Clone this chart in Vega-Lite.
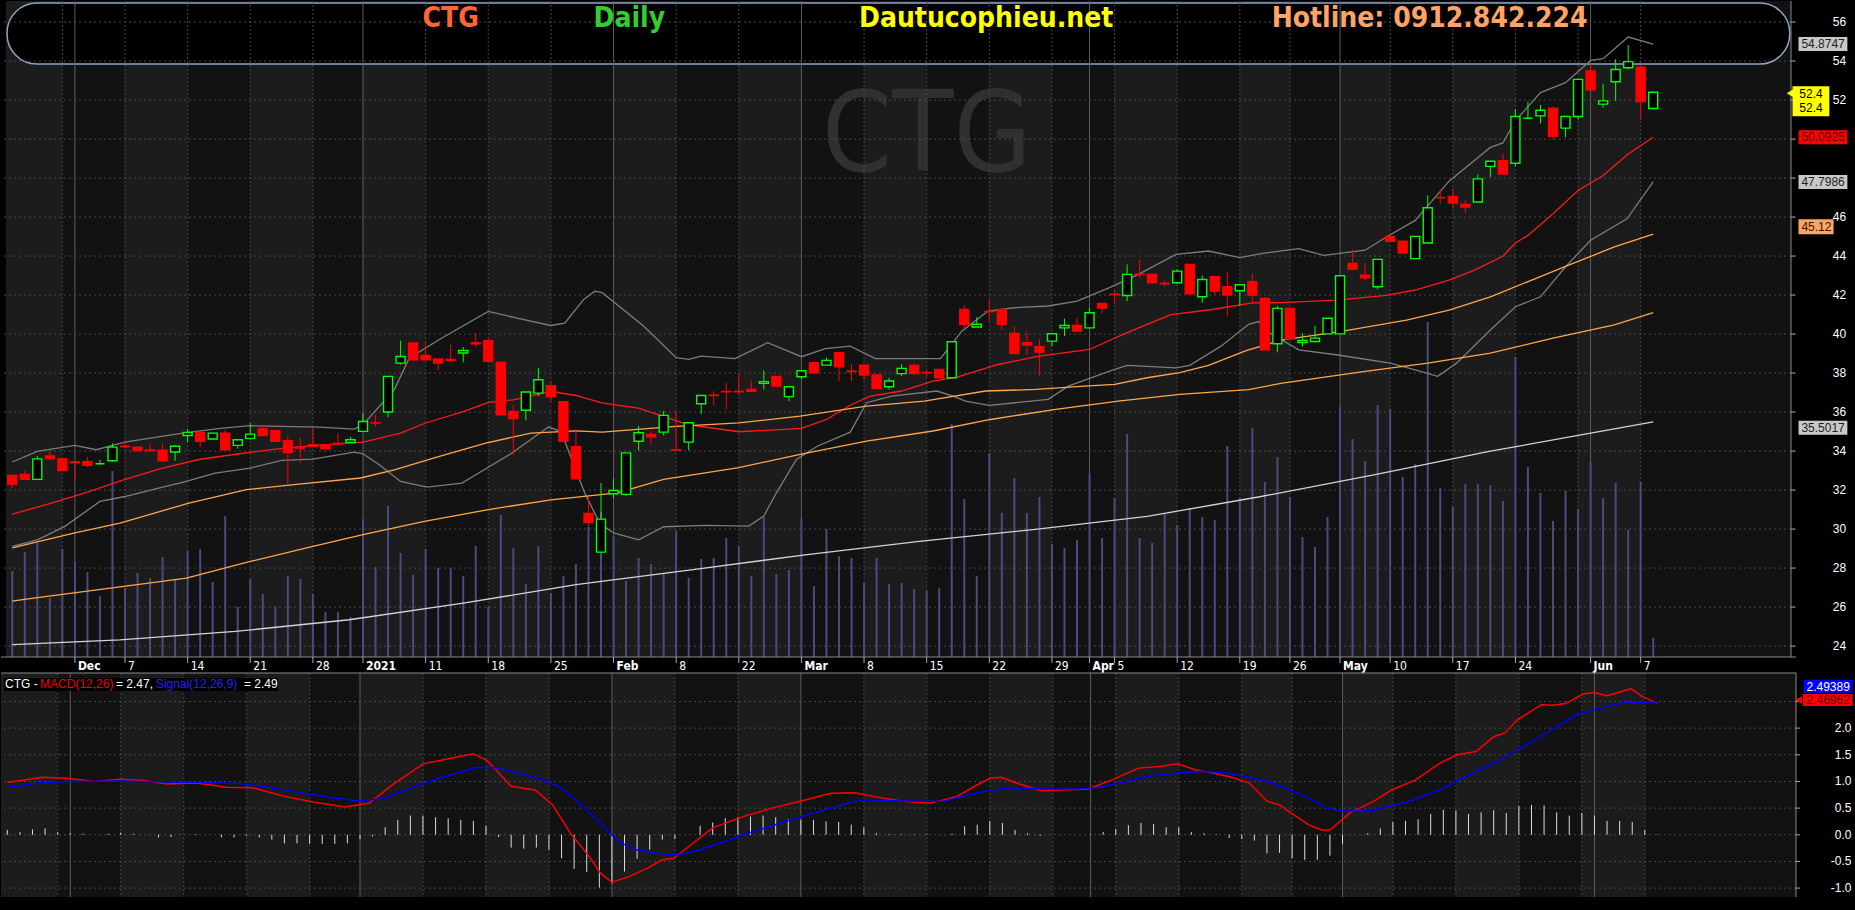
{
"$schema": "https://vega.github.io/schema/vega-lite/v6.json",
"background": "#000000",
"padding": {"left": 0, "top": 0, "right": 3, "bottom": 14},
"bounds": "flush",
"spacing": 16,
"resolve": {"scale": {"color": "independent"}},
"config": {"view": {"stroke": null}},
"datasets": {
"candles": [
{"t":0,"o":32.75,"h":32.75,"l":32.1,"c":32.3,"v":8.6},
{"t":1,"o":32.8,"h":33.0,"l":32.5,"c":32.55,"v":10.5},
{"t":2,"o":32.55,"h":33.75,"l":32.5,"c":33.6,"v":11.4},
{"t":3,"o":33.75,"h":34.0,"l":33.6,"c":33.6,"v":5.9},
{"t":4,"o":33.6,"h":33.6,"l":33.0,"c":33.0,"v":10.8},
{"t":5,"o":33.45,"h":33.45,"l":32.55,"c":33.4,"v":9.5},
{"t":6,"o":33.45,"h":33.7,"l":33.18,"c":33.27,"v":8.5},
{"t":7,"o":33.35,"h":33.55,"l":33.3,"c":33.35,"v":6.1},
{"t":8,"o":33.5,"h":34.4,"l":33.45,"c":34.2,"v":18.6},
{"t":9,"o":34.25,"h":34.55,"l":34.15,"c":34.22,"v":6.9},
{"t":10,"o":34.2,"h":34.2,"l":33.95,"c":34.03,"v":8.4},
{"t":11,"o":34.05,"h":34.4,"l":34.0,"c":34.02,"v":7.9},
{"t":12,"o":34.05,"h":34.4,"l":33.5,"c":33.5,"v":10.0},
{"t":13,"o":33.95,"h":34.3,"l":33.5,"c":34.25,"v":7.8},
{"t":14,"o":34.8,"h":35.13,"l":34.45,"c":34.96,"v":10.6},
{"t":15,"o":34.96,"h":34.96,"l":34.19,"c":34.5,"v":10.8},
{"t":16,"o":34.62,"h":34.95,"l":34.6,"c":34.92,"v":7.5},
{"t":17,"o":34.92,"h":35.09,"l":34.07,"c":34.07,"v":14.1},
{"t":18,"o":34.29,"h":34.58,"l":34.12,"c":34.58,"v":5.0},
{"t":19,"o":34.65,"h":35.44,"l":34.58,"c":34.87,"v":7.8},
{"t":20,"o":35.13,"h":35.35,"l":34.8,"c":34.8,"v":6.3},
{"t":21,"o":35.04,"h":35.04,"l":34.5,"c":34.5,"v":5.0},
{"t":22,"o":34.53,"h":34.79,"l":32.27,"c":33.93,"v":8.1},
{"t":23,"o":34.2,"h":34.7,"l":33.4,"c":34.15,"v":7.8},
{"t":24,"o":34.33,"h":35.18,"l":34.24,"c":34.24,"v":6.3},
{"t":25,"o":34.33,"h":34.33,"l":34.12,"c":34.12,"v":4.5},
{"t":26,"o":34.4,"h":34.92,"l":34.3,"c":34.38,"v":4.5},
{"t":27,"o":34.44,"h":34.72,"l":34.44,"c":34.58,"v":4.0},
{"t":28,"o":35.01,"h":35.95,"l":35.01,"c":35.52,"v":13.8},
{"t":29,"o":35.45,"h":35.86,"l":35.26,"c":35.44,"v":9.0},
{"t":30,"o":36.0,"h":37.83,"l":35.74,"c":37.83,"v":15.1},
{"t":31,"o":38.51,"h":39.66,"l":38.43,"c":38.85,"v":10.4},
{"t":32,"o":39.54,"h":39.54,"l":38.68,"c":38.68,"v":8.2},
{"t":33,"o":38.9,"h":39.59,"l":38.68,"c":38.68,"v":10.8},
{"t":34,"o":38.72,"h":38.72,"l":38.14,"c":38.51,"v":8.9},
{"t":35,"o":38.7,"h":39.45,"l":38.55,"c":38.65,"v":8.9},
{"t":36,"o":39.03,"h":39.33,"l":38.55,"c":39.16,"v":8.1},
{"t":37,"o":39.55,"h":40.05,"l":39.35,"c":39.5,"v":11.1},
{"t":38,"o":39.66,"h":39.8,"l":38.6,"c":38.6,"v":5.0},
{"t":39,"o":38.55,"h":38.6,"l":35.86,"c":35.86,"v":14.2},
{"t":40,"o":36.03,"h":36.38,"l":33.81,"c":35.67,"v":10.9},
{"t":41,"o":36.09,"h":37.03,"l":35.57,"c":37.03,"v":7.3},
{"t":42,"o":36.97,"h":38.26,"l":36.8,"c":37.66,"v":11.1},
{"t":43,"o":37.35,"h":37.57,"l":36.55,"c":36.8,"v":6.4},
{"t":44,"o":36.53,"h":36.53,"l":34.5,"c":34.5,"v":8.1},
{"t":45,"o":34.22,"h":35.13,"l":32.53,"c":32.58,"v":9.3},
{"t":46,"o":30.8,"h":31.67,"l":30.14,"c":30.34,"v":13.0},
{"t":47,"o":28.82,"h":32.36,"l":28.8,"c":30.51,"v":14.5},
{"t":48,"o":31.81,"h":32.58,"l":31.59,"c":31.98,"v":12.1},
{"t":49,"o":31.78,"h":33.91,"l":31.7,"c":33.91,"v":7.6},
{"t":50,"o":34.5,"h":35.28,"l":34.03,"c":34.94,"v":9.9},
{"t":51,"o":34.85,"h":35.03,"l":34.34,"c":34.73,"v":9.3},
{"t":52,"o":34.97,"h":36.05,"l":34.8,"c":35.83,"v":8.3},
{"t":53,"o":34.07,"h":36.05,"l":34.03,"c":34.05,"v":12.6},
{"t":54,"o":34.46,"h":35.45,"l":34.03,"c":35.45,"v":7.9},
{"t":55,"o":36.43,"h":36.85,"l":35.9,"c":36.85,"v":9.8},
{"t":56,"o":36.87,"h":37.07,"l":36.34,"c":36.85,"v":9.9},
{"t":57,"o":37.06,"h":37.5,"l":36.14,"c":37.04,"v":11.9},
{"t":58,"o":37.06,"h":38.0,"l":36.87,"c":37.04,"v":11.1},
{"t":59,"o":37.16,"h":37.62,"l":37.07,"c":37.07,"v":8.1},
{"t":60,"o":37.47,"h":38.14,"l":37.16,"c":37.56,"v":14.0},
{"t":61,"o":37.83,"h":37.83,"l":37.33,"c":37.33,"v":8.3},
{"t":62,"o":36.79,"h":37.3,"l":36.56,"c":37.3,"v":8.7},
{"t":63,"o":37.81,"h":38.12,"l":37.7,"c":38.12,"v":13.8},
{"t":64,"o":38.53,"h":38.53,"l":38.02,"c":38.02,"v":7.1},
{"t":65,"o":38.41,"h":38.79,"l":38.41,"c":38.65,"v":12.8},
{"t":66,"o":39.04,"h":39.04,"l":37.59,"c":38.32,"v":10.1},
{"t":67,"o":38.1,"h":38.44,"l":37.59,"c":38.08,"v":9.9},
{"t":68,"o":38.41,"h":38.48,"l":37.66,"c":37.9,"v":7.4},
{"t":69,"o":37.91,"h":37.91,"l":37.21,"c":37.21,"v":9.9},
{"t":70,"o":37.3,"h":37.76,"l":37.16,"c":37.59,"v":7.3},
{"t":71,"o":37.97,"h":38.44,"l":37.85,"c":38.24,"v":7.4},
{"t":72,"o":38.39,"h":38.48,"l":37.97,"c":37.97,"v":6.8},
{"t":73,"o":38.03,"h":38.19,"l":37.8,"c":38.02,"v":6.6},
{"t":74,"o":38.19,"h":38.19,"l":37.76,"c":37.76,"v":6.9},
{"t":75,"o":37.76,"h":39.61,"l":37.7,"c":39.61,"v":23.3},
{"t":76,"o":41.26,"h":41.47,"l":40.24,"c":40.5,"v":15.8},
{"t":77,"o":40.36,"h":40.87,"l":40.36,"c":40.5,"v":8.1},
{"t":78,"o":41.16,"h":41.78,"l":40.67,"c":41.15,"v":20.4},
{"t":79,"o":41.26,"h":41.26,"l":40.24,"c":40.5,"v":14.4},
{"t":80,"o":40.03,"h":40.41,"l":39.0,"c":39.0,"v":17.9},
{"t":81,"o":39.56,"h":40.15,"l":38.96,"c":39.44,"v":14.4},
{"t":82,"o":39.35,"h":39.76,"l":37.85,"c":39.08,"v":16.0},
{"t":83,"o":39.64,"h":40.02,"l":39.38,"c":40.02,"v":11.3},
{"t":84,"o":40.32,"h":40.79,"l":39.9,"c":40.44,"v":10.9},
{"t":85,"o":40.44,"h":40.84,"l":40.15,"c":40.15,"v":11.7},
{"t":86,"o":40.32,"h":41.35,"l":40.32,"c":41.09,"v":18.4},
{"t":87,"o":41.57,"h":41.57,"l":41.09,"c":41.33,"v":11.9},
{"t":88,"o":42.04,"h":42.29,"l":41.57,"c":42.03,"v":15.9},
{"t":89,"o":41.98,"h":43.57,"l":41.69,"c":43.06,"v":22.3},
{"t":90,"o":43.07,"h":43.83,"l":42.89,"c":43.06,"v":11.9},
{"t":91,"o":43.06,"h":43.06,"l":42.63,"c":42.63,"v":11.4},
{"t":92,"o":42.6,"h":42.75,"l":42.45,"c":42.58,"v":14.4},
{"t":93,"o":42.63,"h":43.32,"l":42.55,"c":43.23,"v":13.2},
{"t":94,"o":43.57,"h":43.57,"l":42.07,"c":42.07,"v":14.9},
{"t":95,"o":41.91,"h":43.0,"l":41.61,"c":42.8,"v":14.0},
{"t":96,"o":42.94,"h":42.97,"l":42.03,"c":42.2,"v":13.7},
{"t":97,"o":42.43,"h":43.18,"l":40.92,"c":42.0,"v":21.1},
{"t":98,"o":42.22,"h":42.53,"l":41.44,"c":42.53,"v":15.9},
{"t":99,"o":42.68,"h":43.1,"l":41.57,"c":42.0,"v":22.9},
{"t":100,"o":41.83,"h":41.91,"l":39.19,"c":39.19,"v":17.5},
{"t":101,"o":39.5,"h":41.44,"l":39.06,"c":41.32,"v":20.0},
{"t":102,"o":41.32,"h":41.32,"l":39.74,"c":39.74,"v":16.0},
{"t":103,"o":39.57,"h":40.04,"l":39.36,"c":39.67,"v":12.0},
{"t":104,"o":39.62,"h":40.42,"l":39.62,"c":39.79,"v":11.0},
{"t":105,"o":40.01,"h":40.81,"l":40.01,"c":40.81,"v":14.0},
{"t":106,"o":40.01,"h":42.99,"l":40.01,"c":42.99,"v":25.0},
{"t":107,"o":43.62,"h":44.33,"l":43.33,"c":43.33,"v":21.8},
{"t":108,"o":43.02,"h":43.65,"l":42.73,"c":42.89,"v":19.6},
{"t":109,"o":42.43,"h":43.83,"l":42.29,"c":43.83,"v":25.2},
{"t":110,"o":45.01,"h":45.01,"l":44.76,"c":44.76,"v":24.8},
{"t":111,"o":44.76,"h":44.76,"l":44.16,"c":44.16,"v":18.0},
{"t":112,"o":43.87,"h":45.01,"l":43.87,"c":45.01,"v":19.3},
{"t":113,"o":44.67,"h":47.11,"l":44.67,"c":46.48,"v":33.5},
{"t":114,"o":47.0,"h":47.4,"l":46.68,"c":46.99,"v":16.9},
{"t":115,"o":47.06,"h":47.45,"l":46.43,"c":46.72,"v":15.0},
{"t":116,"o":46.65,"h":46.85,"l":46.2,"c":46.51,"v":17.3},
{"t":117,"o":46.77,"h":48.18,"l":46.77,"c":47.96,"v":17.3},
{"t":118,"o":48.6,"h":48.86,"l":48.04,"c":48.86,"v":17.2},
{"t":119,"o":48.89,"h":49.23,"l":48.21,"c":48.21,"v":15.6},
{"t":120,"o":48.76,"h":51.53,"l":48.6,"c":51.16,"v":30.0},
{"t":121,"o":51.07,"h":51.92,"l":51.07,"c":51.07,"v":19.0},
{"t":122,"o":51.19,"h":51.75,"l":50.8,"c":51.48,"v":16.4},
{"t":123,"o":51.58,"h":51.65,"l":49.97,"c":50.14,"v":13.6},
{"t":124,"o":50.56,"h":51.16,"l":50.09,"c":51.16,"v":16.6},
{"t":125,"o":51.16,"h":53.06,"l":51.0,"c":53.06,"v":14.8},
{"t":126,"o":53.49,"h":53.83,"l":52.52,"c":52.52,"v":19.5},
{"t":127,"o":51.79,"h":52.84,"l":51.62,"c":51.96,"v":15.9},
{"t":128,"o":52.94,"h":54.09,"l":51.96,"c":53.57,"v":17.4},
{"t":129,"o":53.66,"h":54.82,"l":53.57,"c":53.97,"v":12.7},
{"t":130,"o":53.69,"h":53.69,"l":50.99,"c":51.92,"v":17.5},
{"t":131,"o":51.57,"h":52.4,"l":51.5,"c":52.4,"v":1.9}
],
"lines": [
{"s":"MA20","t":0,"v":30.77},{"s":"MA20","t":3,"v":31.3},{"s":"MA20","t":6,"v":31.9},{"s":"MA20","t":9,"v":32.55},{"s":"MA20","t":12,"v":33.13},{"s":"MA20","t":15,"v":33.58},{"s":"MA20","t":18,"v":33.85},{"s":"MA20","t":21,"v":34.1},{"s":"MA20","t":24,"v":34.28},{"s":"MA20","t":28,"v":34.46},{"s":"MA20","t":31,"v":34.92},{"s":"MA20","t":33,"v":35.44},{"s":"MA20","t":36,"v":36.02},{"s":"MA20","t":38,"v":36.5},{"s":"MA20","t":40,"v":36.63},{"s":"MA20","t":43,"v":37.06},{"s":"MA20","t":45,"v":36.85},{"s":"MA20","t":47,"v":36.48},{"s":"MA20","t":48,"v":36.38},{"s":"MA20","t":50,"v":36.2},{"s":"MA20","t":54,"v":35.35},{"s":"MA20","t":58,"v":34.99},{"s":"MA20","t":63,"v":35.16},{"s":"MA20","t":65,"v":35.62},{"s":"MA20","t":67,"v":36.39},{"s":"MA20","t":68.5,"v":36.82},{"s":"MA20","t":71,"v":37.08},{"s":"MA20","t":73.5,"v":37.59},{"s":"MA20","t":75.5,"v":37.81},{"s":"MA20","t":78.7,"v":38.44},{"s":"MA20","t":82,"v":38.87},{"s":"MA20","t":86,"v":39.21},{"s":"MA20","t":89,"v":40.07},{"s":"MA20","t":92.5,"v":41.0},{"s":"MA20","t":95.8,"v":41.26},{"s":"MA20","t":99,"v":41.6},{"s":"MA20","t":101.4,"v":41.61},{"s":"MA20","t":105.7,"v":41.74},{"s":"MA20","t":109.7,"v":41.98},{"s":"MA20","t":112,"v":42.26},{"s":"MA20","t":114.7,"v":42.77},{"s":"MA20","t":116.6,"v":43.24},{"s":"MA20","t":119,"v":43.99},{"s":"MA20","t":120,"v":44.67},{"s":"MA20","t":121,"v":45.06},{"s":"MA20","t":123,"v":46.17},{"s":"MA20","t":125,"v":47.36},{"s":"MA20","t":127,"v":48.13},{"s":"MA20","t":129,"v":49.23},{"s":"MA20","t":131,"v":50.09},
{"s":"BBU","t":0,"v":33.44},{"s":"BBU","t":2,"v":33.98},{"s":"BBU","t":5,"v":34.29},{"s":"BBU","t":6.7,"v":34.07},{"s":"BBU","t":9,"v":34.46},{"s":"BBU","t":13.6,"v":34.92},{"s":"BBU","t":16.8,"v":35.18},{"s":"BBU","t":19,"v":35.3},{"s":"BBU","t":24.5,"v":35.23},{"s":"BBU","t":27.3,"v":35.13},{"s":"BBU","t":28,"v":35.35},{"s":"BBU","t":30.5,"v":37.15},{"s":"BBU","t":31.7,"v":38.77},{"s":"BBU","t":34.3,"v":39.8},{"s":"BBU","t":38,"v":41.16},{"s":"BBU","t":40.3,"v":40.82},{"s":"BBU","t":43,"v":40.44},{"s":"BBU","t":44.1,"v":40.56},{"s":"BBU","t":45.6,"v":41.76},{"s":"BBU","t":46.5,"v":42.2},{"s":"BBU","t":47.1,"v":42.12},{"s":"BBU","t":50.4,"v":40.41},{"s":"BBU","t":53,"v":38.79},{"s":"BBU","t":54,"v":38.7},{"s":"BBU","t":55,"v":38.87},{"s":"BBU","t":57.7,"v":38.74},{"s":"BBU","t":60.3,"v":39.56},{"s":"BBU","t":63,"v":38.84},{"s":"BBU","t":64.9,"v":39.25},{"s":"BBU","t":66.9,"v":39.38},{"s":"BBU","t":68.9,"v":38.74},{"s":"BBU","t":74.1,"v":38.74},{"s":"BBU","t":75.8,"v":40.15},{"s":"BBU","t":77.9,"v":41.18},{"s":"BBU","t":80,"v":41.35},{"s":"BBU","t":82.7,"v":41.44},{"s":"BBU","t":85,"v":41.69},{"s":"BBU","t":87.6,"v":42.38},{"s":"BBU","t":89.9,"v":43.06},{"s":"BBU","t":92.9,"v":44.09},{"s":"BBU","t":95.5,"v":44.26},{"s":"BBU","t":98,"v":43.92},{"s":"BBU","t":99.7,"v":44.13},{"s":"BBU","t":102.7,"v":44.38},{"s":"BBU","t":104.7,"v":44.04},{"s":"BBU","t":108,"v":44.3},{"s":"BBU","t":109.7,"v":44.98},{"s":"BBU","t":112,"v":45.83},{"s":"BBU","t":114.7,"v":47.84},{"s":"BBU","t":118,"v":49.57},{"s":"BBU","t":119,"v":49.8},{"s":"BBU","t":120,"v":50.94},{"s":"BBU","t":122,"v":52.38},{"s":"BBU","t":124,"v":52.89},{"s":"BBU","t":126,"v":54.03},{"s":"BBU","t":127,"v":54.12},{"s":"BBU","t":129,"v":55.23},{"s":"BBU","t":131,"v":54.87},
{"s":"BBL","t":0,"v":29.11},{"s":"BBL","t":2,"v":29.45},{"s":"BBL","t":4.2,"v":30.14},{"s":"BBL","t":7,"v":31.42},{"s":"BBL","t":9,"v":31.67},{"s":"BBL","t":12,"v":32.15},{"s":"BBL","t":13.6,"v":32.39},{"s":"BBL","t":16.2,"v":32.87},{"s":"BBL","t":19,"v":33.13},{"s":"BBL","t":21.5,"v":33.52},{"s":"BBL","t":24,"v":33.59},{"s":"BBL","t":27.3,"v":33.95},{"s":"BBL","t":28,"v":33.86},{"s":"BBL","t":29.3,"v":33.3},{"s":"BBL","t":31,"v":32.44},{"s":"BBL","t":33.1,"v":32.15},{"s":"BBL","t":35.9,"v":32.36},{"s":"BBL","t":37.9,"v":33.13},{"s":"BBL","t":39.8,"v":33.86},{"s":"BBL","t":42.8,"v":35.23},{"s":"BBL","t":43.8,"v":35.01},{"s":"BBL","t":45.7,"v":31.85},{"s":"BBL","t":46.9,"v":30.3},{"s":"BBL","t":48,"v":29.8},{"s":"BBL","t":50,"v":29.45},{"s":"BBL","t":52,"v":30.12},{"s":"BBL","t":55.4,"v":30.19},{"s":"BBL","t":58.8,"v":30.15},{"s":"BBL","t":60,"v":30.67},{"s":"BBL","t":61,"v":31.86},{"s":"BBL","t":62.6,"v":33.57},{"s":"BBL","t":64.3,"v":34.26},{"s":"BBL","t":66.9,"v":34.97},{"s":"BBL","t":68.2,"v":36.48},{"s":"BBL","t":70.2,"v":36.82},{"s":"BBL","t":73.8,"v":37.08},{"s":"BBL","t":75.1,"v":36.82},{"s":"BBL","t":76.1,"v":36.56},{"s":"BBL","t":78,"v":36.34},{"s":"BBL","t":82.7,"v":36.65},{"s":"BBL","t":84.3,"v":37.33},{"s":"BBL","t":87.6,"v":38.1},{"s":"BBL","t":89,"v":38.39},{"s":"BBL","t":92.9,"v":38.27},{"s":"BBL","t":94,"v":38.4},{"s":"BBL","t":96.5,"v":39.38},{"s":"BBL","t":98.7,"v":40.5},{"s":"BBL","t":99.5,"v":40.64},{"s":"BBL","t":100.2,"v":40.13},{"s":"BBL","t":102.7,"v":39.19},{"s":"BBL","t":105.7,"v":38.94},{"s":"BBL","t":110,"v":38.51},{"s":"BBL","t":112,"v":38.17},{"s":"BBL","t":113.8,"v":37.83},{"s":"BBL","t":115.3,"v":38.51},{"s":"BBL","t":118,"v":40.21},{"s":"BBL","t":120,"v":41.4},{"s":"BBL","t":122,"v":41.91},{"s":"BBL","t":124,"v":43.45},{"s":"BBL","t":126,"v":44.81},{"s":"BBL","t":128.9,"v":45.91},{"s":"BBL","t":131,"v":47.8},
{"s":"MA50","t":0,"v":29.03},{"s":"MA50","t":5,"v":29.8},{"s":"MA50","t":8.6,"v":30.31},{"s":"MA50","t":14.1,"v":31.33},{"s":"MA50","t":18.7,"v":32.02},{"s":"MA50","t":22.3,"v":32.27},{"s":"MA50","t":27.8,"v":32.62},{"s":"MA50","t":30.5,"v":33.04},{"s":"MA50","t":34.1,"v":33.73},{"s":"MA50","t":37.8,"v":34.41},{"s":"MA50","t":41.4,"v":34.92},{"s":"MA50","t":45,"v":35.04},{"s":"MA50","t":47.1,"v":34.97},{"s":"MA50","t":52.7,"v":35.25},{"s":"MA50","t":58,"v":35.45},{"s":"MA50","t":62.9,"v":35.79},{"s":"MA50","t":68.2,"v":36.31},{"s":"MA50","t":72.8,"v":36.56},{"s":"MA50","t":77.7,"v":37.08},{"s":"MA50","t":81.7,"v":37.16},{"s":"MA50","t":85.6,"v":37.33},{"s":"MA50","t":88,"v":37.42},{"s":"MA50","t":90.6,"v":37.76},{"s":"MA50","t":93.2,"v":38.02},{"s":"MA50","t":95.5,"v":38.4},{"s":"MA50","t":98.5,"v":39.15},{"s":"MA50","t":101.4,"v":39.7},{"s":"MA50","t":106,"v":40.13},{"s":"MA50","t":111.3,"v":40.72},{"s":"MA50","t":114.7,"v":41.23},{"s":"MA50","t":118,"v":41.91},{"s":"MA50","t":121.3,"v":42.77},{"s":"MA50","t":124.6,"v":43.62},{"s":"MA50","t":127.9,"v":44.47},{"s":"MA50","t":131,"v":45.12},
{"s":"MA100","t":0,"v":26.3},{"s":"MA100","t":1.1,"v":26.41},{"s":"MA100","t":8.9,"v":27.06},{"s":"MA100","t":13.9,"v":27.49},{"s":"MA100","t":19,"v":28.34},{"s":"MA100","t":24,"v":29.11},{"s":"MA100","t":28,"v":29.71},{"s":"MA100","t":32.9,"v":30.39},{"s":"MA100","t":37.9,"v":30.99},{"s":"MA100","t":43,"v":31.5},{"s":"MA100","t":48.3,"v":31.86},{"s":"MA100","t":52,"v":32.55},{"s":"MA100","t":58,"v":33.15},{"s":"MA100","t":62.9,"v":33.83},{"s":"MA100","t":68.2,"v":34.51},{"s":"MA100","t":73.5,"v":35.03},{"s":"MA100","t":78.1,"v":35.62},{"s":"MA100","t":83.3,"v":36.14},{"s":"MA100","t":88.3,"v":36.56},{"s":"MA100","t":93.2,"v":36.91},{"s":"MA100","t":98.7,"v":37.15},{"s":"MA100","t":101.4,"v":37.49},{"s":"MA100","t":108,"v":38.09},{"s":"MA100","t":113,"v":38.51},{"s":"MA100","t":118,"v":39.02},{"s":"MA100","t":123,"v":39.79},{"s":"MA100","t":127.9,"v":40.47},{"s":"MA100","t":131,"v":41.1},
{"s":"MA200","t":0,"v":24.07},{"s":"MA200","t":8.6,"v":24.32},{"s":"MA200","t":17.8,"v":24.75},{"s":"MA200","t":26.9,"v":25.35},{"s":"MA200","t":36,"v":26.2},{"s":"MA200","t":45,"v":27.15},{"s":"MA200","t":54.2,"v":27.91},{"s":"MA200","t":63.3,"v":28.68},{"s":"MA200","t":72.4,"v":29.37},{"s":"MA200","t":81.5,"v":29.97},{"s":"MA200","t":90.6,"v":30.65},{"s":"MA200","t":99.7,"v":31.67},{"s":"MA200","t":108.8,"v":32.79},{"s":"MA200","t":117.9,"v":33.98},{"s":"MA200","t":131,"v":35.5}
],
"macd": [
{"s":"MACD","t":0,"v":0.98},{"s":"MACD","t":2.8,"v":1.08},{"s":"MACD","t":4.7,"v":1.06},{"s":"MACD","t":7,"v":1.0},{"s":"MACD","t":9,"v":1.04},{"s":"MACD","t":10.8,"v":1.02},{"s":"MACD","t":12.7,"v":0.95},{"s":"MACD","t":15,"v":0.97},{"s":"MACD","t":17.4,"v":0.89},{"s":"MACD","t":19.5,"v":0.88},{"s":"MACD","t":22,"v":0.72},{"s":"MACD","t":24.4,"v":0.61},{"s":"MACD","t":26.8,"v":0.52},{"s":"MACD","t":28.7,"v":0.59},{"s":"MACD","t":30.6,"v":0.94},{"s":"MACD","t":33,"v":1.33},{"s":"MACD","t":35.3,"v":1.44},{"s":"MACD","t":37,"v":1.52},{"s":"MACD","t":38.1,"v":1.39},{"s":"MACD","t":40,"v":0.91},{"s":"MACD","t":41.9,"v":0.84},{"s":"MACD","t":43.3,"v":0.56},{"s":"MACD","t":44.7,"v":0.03},{"s":"MACD","t":46.2,"v":-0.41},{"s":"MACD","t":47.1,"v":-0.72},{"s":"MACD","t":48,"v":-0.89},{"s":"MACD","t":49.4,"v":-0.78},{"s":"MACD","t":50.8,"v":-0.63},{"s":"MACD","t":52,"v":-0.47},{"s":"MACD","t":52.9,"v":-0.44},{"s":"MACD","t":54.1,"v":-0.22},{"s":"MACD","t":56,"v":0.13},{"s":"MACD","t":58.4,"v":0.34},{"s":"MACD","t":60.7,"v":0.5},{"s":"MACD","t":63.1,"v":0.64},{"s":"MACD","t":65.4,"v":0.78},{"s":"MACD","t":67.3,"v":0.79},{"s":"MACD","t":68.7,"v":0.72},{"s":"MACD","t":71.1,"v":0.63},{"s":"MACD","t":73.3,"v":0.59},{"s":"MACD","t":75.4,"v":0.72},{"s":"MACD","t":76.8,"v":0.91},{"s":"MACD","t":78,"v":1.06},{"s":"MACD","t":78.9,"v":1.08},{"s":"MACD","t":80.1,"v":0.97},{"s":"MACD","t":82,"v":0.83},{"s":"MACD","t":83.9,"v":0.84},{"s":"MACD","t":85.8,"v":0.86},{"s":"MACD","t":87.7,"v":1.03},{"s":"MACD","t":89.8,"v":1.25},{"s":"MACD","t":91.5,"v":1.28},{"s":"MACD","t":92.9,"v":1.33},{"s":"MACD","t":94.3,"v":1.22},{"s":"MACD","t":95.7,"v":1.16},{"s":"MACD","t":97.2,"v":1.08},{"s":"MACD","t":98.6,"v":0.97},{"s":"MACD","t":100,"v":0.63},{"s":"MACD","t":101,"v":0.56},{"s":"MACD","t":101.9,"v":0.41},{"s":"MACD","t":103.3,"v":0.19},{"s":"MACD","t":104.3,"v":0.09},{"s":"MACD","t":105,"v":0.09},{"s":"MACD","t":106.6,"v":0.41},{"s":"MACD","t":108.5,"v":0.63},{"s":"MACD","t":109.9,"v":0.84},{"s":"MACD","t":111.8,"v":1.03},{"s":"MACD","t":113.7,"v":1.34},{"s":"MACD","t":115.1,"v":1.5},{"s":"MACD","t":116.6,"v":1.56},{"s":"MACD","t":118,"v":1.84},{"s":"MACD","t":118.9,"v":1.91},{"s":"MACD","t":119.9,"v":2.16},{"s":"MACD","t":121.8,"v":2.44},{"s":"MACD","t":122.7,"v":2.43},{"s":"MACD","t":123.7,"v":2.46},{"s":"MACD","t":125.1,"v":2.64},{"s":"MACD","t":126,"v":2.67},{"s":"MACD","t":127,"v":2.61},{"s":"MACD","t":128.9,"v":2.74},{"s":"MACD","t":129.8,"v":2.59},{"s":"MACD","t":131,"v":2.47},
{"s":"Signal","t":0,"v":0.89},{"s":"Signal","t":2.4,"v":0.97},{"s":"Signal","t":4.7,"v":1.0},{"s":"Signal","t":9,"v":1.01},{"s":"Signal","t":12.7,"v":0.99},{"s":"Signal","t":15.5,"v":0.98},{"s":"Signal","t":18.4,"v":0.96},{"s":"Signal","t":20.7,"v":0.89},{"s":"Signal","t":23.1,"v":0.8},{"s":"Signal","t":25.9,"v":0.69},{"s":"Signal","t":27.8,"v":0.64},{"s":"Signal","t":29.7,"v":0.67},{"s":"Signal","t":32.5,"v":0.92},{"s":"Signal","t":35.3,"v":1.13},{"s":"Signal","t":37.2,"v":1.26},{"s":"Signal","t":38.6,"v":1.26},{"s":"Signal","t":40.5,"v":1.16},{"s":"Signal","t":42.4,"v":1.04},{"s":"Signal","t":44,"v":0.88},{"s":"Signal","t":45.7,"v":0.53},{"s":"Signal","t":47.1,"v":0.22},{"s":"Signal","t":48.5,"v":-0.13},{"s":"Signal","t":49.9,"v":-0.28},{"s":"Signal","t":51.3,"v":-0.34},{"s":"Signal","t":53.2,"v":-0.38},{"s":"Signal","t":55,"v":-0.28},{"s":"Signal","t":56.9,"v":-0.13},{"s":"Signal","t":58.8,"v":0.03},{"s":"Signal","t":60.6,"v":0.16},{"s":"Signal","t":62.6,"v":0.31},{"s":"Signal","t":65.4,"v":0.5},{"s":"Signal","t":67.3,"v":0.63},{"s":"Signal","t":70.1,"v":0.64},{"s":"Signal","t":72.5,"v":0.63},{"s":"Signal","t":74.4,"v":0.63},{"s":"Signal","t":76.3,"v":0.75},{"s":"Signal","t":78.2,"v":0.84},{"s":"Signal","t":79.6,"v":0.88},{"s":"Signal","t":82,"v":0.86},{"s":"Signal","t":84.8,"v":0.86},{"s":"Signal","t":86.7,"v":0.89},{"s":"Signal","t":88.6,"v":0.99},{"s":"Signal","t":91,"v":1.11},{"s":"Signal","t":92.9,"v":1.16},{"s":"Signal","t":94.8,"v":1.19},{"s":"Signal","t":96.7,"v":1.16},{"s":"Signal","t":98.6,"v":1.08},{"s":"Signal","t":100.5,"v":0.97},{"s":"Signal","t":102.4,"v":0.78},{"s":"Signal","t":103.8,"v":0.63},{"s":"Signal","t":104.7,"v":0.5},{"s":"Signal","t":106.1,"v":0.44},{"s":"Signal","t":108.5,"v":0.46},{"s":"Signal","t":111.3,"v":0.63},{"s":"Signal","t":113.7,"v":0.84},{"s":"Signal","t":116.1,"v":1.13},{"s":"Signal","t":118.4,"v":1.39},{"s":"Signal","t":120.8,"v":1.71},{"s":"Signal","t":122.7,"v":1.98},{"s":"Signal","t":124.6,"v":2.25},{"s":"Signal","t":126.5,"v":2.38},{"s":"Signal","t":128.4,"v":2.48},{"s":"Signal","t":131,"v":2.49}
],
"hist": [
{"t":0,"v":0.09},{"t":1,"v":0.05},{"t":2,"v":0.1},{"t":3,"v":0.12},{"t":4,"v":0.05},{"t":5,"v":0.03},{"t":6,"v":0.02},{"t":7,"v":0.0},{"t":8,"v":0.02},{"t":9,"v":0.04},{"t":10,"v":0.02},{"t":11,"v":0.0},{"t":12,"v":-0.05},{"t":13,"v":-0.04},{"t":14,"v":0.0},{"t":15,"v":0.01},{"t":16,"v":0.0},{"t":17,"v":-0.05},{"t":18,"v":-0.05},{"t":19,"v":-0.02},{"t":20,"v":-0.05},{"t":21,"v":-0.09},{"t":22,"v":-0.16},{"t":23,"v":-0.16},{"t":24,"v":-0.17},{"t":25,"v":-0.17},{"t":26,"v":-0.17},{"t":27,"v":-0.16},{"t":28,"v":-0.08},{"t":29,"v":-0.03},{"t":30,"v":0.14},{"t":31,"v":0.28},{"t":32,"v":0.36},{"t":33,"v":0.36},{"t":34,"v":0.33},{"t":35,"v":0.31},{"t":36,"v":0.28},{"t":37,"v":0.26},{"t":38,"v":0.17},{"t":39,"v":-0.04},{"t":40,"v":-0.24},{"t":41,"v":-0.26},{"t":42,"v":-0.24},{"t":43,"v":-0.28},{"t":44,"v":-0.44},{"t":45,"v":-0.64},{"t":46,"v":-0.7},{"t":47,"v":-0.99},{"t":48,"v":-0.91},{"t":49,"v":-0.69},{"t":50,"v":-0.45},{"t":51,"v":-0.28},{"t":52,"v":-0.09},{"t":53,"v":-0.08},{"t":54,"v":0.0},{"t":55,"v":0.17},{"t":56,"v":0.23},{"t":57,"v":0.31},{"t":58,"v":0.33},{"t":59,"v":0.34},{"t":60,"v":0.36},{"t":61,"v":0.33},{"t":62,"v":0.29},{"t":63,"v":0.28},{"t":64,"v":0.28},{"t":65,"v":0.25},{"t":66,"v":0.24},{"t":67,"v":0.19},{"t":68,"v":0.14},{"t":69,"v":0.03},{"t":70,"v":0.01},{"t":71,"v":0.01},{"t":72,"v":0.01},{"t":73,"v":0.01},{"t":74,"v":0.0},{"t":75,"v":0.02},{"t":76,"v":0.16},{"t":77,"v":0.19},{"t":78,"v":0.26},{"t":79,"v":0.22},{"t":80,"v":0.09},{"t":81,"v":0.03},{"t":82,"v":-0.02},{"t":83,"v":0.0},{"t":84,"v":0.0},{"t":85,"v":0.0},{"t":86,"v":0.01},{"t":87,"v":0.05},{"t":88,"v":0.11},{"t":89,"v":0.18},{"t":90,"v":0.22},{"t":91,"v":0.2},{"t":92,"v":0.14},{"t":93,"v":0.14},{"t":94,"v":0.05},{"t":95,"v":0.03},{"t":96,"v":0.01},{"t":97,"v":-0.06},{"t":98,"v":-0.08},{"t":99,"v":-0.11},{"t":100,"v":-0.35},{"t":101,"v":-0.34},{"t":102,"v":-0.44},{"t":103,"v":-0.47},{"t":104,"v":-0.47},{"t":105,"v":-0.39},{"t":106,"v":-0.17},{"t":107,"v":0.0},{"t":108,"v":0.03},{"t":109,"v":0.12},{"t":110,"v":0.24},{"t":111,"v":0.26},{"t":112,"v":0.29},{"t":113,"v":0.39},{"t":114,"v":0.47},{"t":115,"v":0.45},{"t":116,"v":0.39},{"t":117,"v":0.42},{"t":118,"v":0.46},{"t":119,"v":0.41},{"t":120,"v":0.54},{"t":121,"v":0.56},{"t":122,"v":0.55},{"t":123,"v":0.42},{"t":124,"v":0.36},{"t":125,"v":0.41},{"t":126,"v":0.36},{"t":127,"v":0.26},{"t":128,"v":0.26},{"t":129,"v":0.24},{"t":130,"v":0.09},{"t":131,"v":0.01}
],
"weeks": [
{"t":-0.5,"t2":4,"k":1},{"t":4,"t2":9,"k":0},{"t":9,"t2":14,"k":1},{"t":14,"t2":19,"k":0},{"t":19,"t2":24,"k":1},{"t":24,"t2":28,"k":0},{"t":28,"t2":33,"k":1},{"t":33,"t2":38,"k":0},{"t":38,"t2":43,"k":1},{"t":43,"t2":48,"k":0},{"t":48,"t2":53,"k":1},{"t":53,"t2":58,"k":0},{"t":58,"t2":63,"k":1},{"t":63,"t2":68,"k":0},{"t":68,"t2":73,"k":1},{"t":73,"t2":78,"k":0},{"t":78,"t2":83,"k":1},{"t":83,"t2":88,"k":0},{"t":88,"t2":93,"k":1},{"t":93,"t2":98,"k":0},{"t":98,"t2":102,"k":1},{"t":102,"t2":106,"k":0},{"t":106,"t2":110,"k":1},{"t":110,"t2":115,"k":0},{"t":115,"t2":120,"k":1},{"t":120,"t2":125,"k":0},{"t":125,"t2":130,"k":1},{"t":130,"t2":142,"k":0}
],
"ticks": [
{"t":4,"m":0},{"t":5,"m":1},{"t":9,"m":0},{"t":14,"m":0},{"t":19,"m":0},{"t":24,"m":0},{"t":28,"m":1},{"t":33,"m":0},{"t":38,"m":0},{"t":43,"m":0},{"t":48,"m":1},{"t":53,"m":0},{"t":58,"m":0},{"t":63,"m":1},{"t":68,"m":0},{"t":73,"m":0},{"t":78,"m":0},{"t":83,"m":0},{"t":86,"m":1},{"t":88,"m":0},{"t":93,"m":0},{"t":98,"m":0},{"t":102,"m":0},{"t":106,"m":1},{"t":110,"m":0},{"t":115,"m":0},{"t":120,"m":0},{"t":125,"m":0},{"t":126,"m":1},{"t":130,"m":0}
],
"xlab": [
{"t":5,"lab":"Dec","b":1},{"t":9,"lab":"7","b":0},{"t":14,"lab":"14","b":0},{"t":19,"lab":"21","b":0},{"t":24,"lab":"28","b":0},{"t":28,"lab":"2021","b":1},{"t":33,"lab":"11","b":0},{"t":38,"lab":"18","b":0},{"t":43,"lab":"25","b":0},{"t":48,"lab":"Feb","b":1},{"t":53,"lab":"8","b":0},{"t":58,"lab":"22","b":0},{"t":63,"lab":"Mar","b":1},{"t":68,"lab":"8","b":0},{"t":73,"lab":"15","b":0},{"t":78,"lab":"22","b":0},{"t":83,"lab":"29","b":0},{"t":86,"lab":"Apr","b":1},{"t":88,"lab":"5","b":0},{"t":93,"lab":"12","b":0},{"t":98,"lab":"19","b":0},{"t":102,"lab":"26","b":0},{"t":106,"lab":"May","b":1},{"t":110,"lab":"10","b":0},{"t":115,"lab":"17","b":0},{"t":120,"lab":"24","b":0},{"t":126,"lab":"Jun","b":1},{"t":130,"lab":"7","b":0}
],
"pgrid": [{"p":24},{"p":26},{"p":28},{"p":30},{"p":32},{"p":34},{"p":36},{"p":38},{"p":40},{"p":42},{"p":44},{"p":46},{"p":48},{"p":50},{"p":52},{"p":54},{"p":56}],
"mgrid": [{"p":-1,"lab":"-1.0"},{"p":-0.5,"lab":"-0.5"},{"p":0,"lab":"0.0"},{"p":0.5,"lab":"0.5"},{"p":1,"lab":"1.0"},{"p":1.5,"lab":"1.5"},{"p":2,"lab":"2.0"},{"p":2.5,"lab":"2.5"}],
"lastA": [{"n":"BBU","v":54.8747,"txt":"54.8747"},{"n":"MA20","v":50.0925,"txt":"50.0925"},{"n":"BBL","v":47.7986,"txt":"47.7986"}],
"lastB": [{"n":"MA200","v":35.5017,"txt":"35.5017"}],
"lastC": [{"n":"MA50","v":45.12,"txt":"45.12"}],
"lastD": [{"n":"Close","v":52.4,"txt":"52.4"}],
"lastM": [{"n":"MACD","v":2.46962,"txt":"2.46962"}],
"lastS": [{"n":"Signal","v":2.49389,"txt":"2.49389"}],
"one": [{}]
},
"vconcat": [
{
"width": 1795,
"height": 656,
"resolve": {"scale": {"y": "independent"}},
"layer": [
{
"layer": [
{"data": {"name": "weeks"}, "mark": {"type": "rect"},
 "encoding": {
  "x": {"field": "t", "type": "quantitative", "scale": {"domain": [-0.5, 142]}, "axis": null},
  "x2": {"field": "t2"},
  "fill": {"condition": {"test": "datum.k == 1", "value": "#1c1c1c"}, "value": "#121212"}
 }},
{"data": {"name": "one"}, "mark": {"type": "text", "font": "Liberation Sans Narrow, DejaVu Sans Condensed, sans-serif", "fontSize": 112, "color": "#303030", "align": "center", "baseline": "alphabetic", "dy": 170},
 "encoding": {
  "x": {"datum": 73, "type": "quantitative", "scale": {"domain": [-0.5, 142]}, "axis": null},
  "y": {"datum": 57.08, "type": "quantitative", "scale": {"domain": [23.44, 57.08]}, "axis": null},
  "text": {"value": "CTG"}
 }},
{"data": {"name": "one"}, "mark": {"type": "rect", "fill": "#000000", "stroke": "#8da6c8", "strokeWidth": 1.5, "cornerRadius": 30, "yOffset": 2, "y2Offset": 63},
 "encoding": {
  "x": {"datum": -0.42, "type": "quantitative", "scale": {"domain": [-0.5, 142]}, "axis": null},
  "x2": {"datum": 141.9},
  "y": {"datum": 57.08, "type": "quantitative", "scale": {"domain": [23.44, 57.08]}, "axis": null},
  "y2": {"datum": 57.08}
 }},
{"data": {"name": "ticks"}, "mark": {"type": "rule", "strokeWidth": 1},
 "encoding": {
  "x": {"field": "t", "type": "quantitative", "scale": {"domain": [-0.5, 142]}, "axis": null},
  "color": {"condition": {"test": "datum.m == 1", "value": "#5e5e5e"}, "value": "#474747"},
  "strokeDash": {"condition": {"test": "datum.m == 1", "value": [1, 0]}, "value": [2, 2]}
 }},
{"data": {"name": "pgrid"}, "mark": {"type": "rule", "color": "#4a4a4a", "strokeDash": [2, 3], "strokeWidth": 1},
 "encoding": {
  "y": {"field": "p", "type": "quantitative", "scale": {"domain": [23.44, 57.08]}, "axis": null}
 }},
{"data": {"name": "one"}, "mark": {"type": "text", "font": "Liberation Sans Narrow, DejaVu Sans Condensed, sans-serif", "fontSize": 28, "fontWeight": "bold", "color": "#ff6633", "align": "center", "baseline": "alphabetic", "dy": 26},
 "encoding": {"x": {"datum": 35.0, "type": "quantitative", "scale": {"domain": [-0.5, 142]}, "axis": null}, "y": {"datum": 57.08, "type": "quantitative", "scale": {"domain": [23.44, 57.08]}, "axis": null}, "text": {"value": "CTG"}}},
{"data": {"name": "one"}, "mark": {"type": "text", "font": "Liberation Sans Narrow, DejaVu Sans Condensed, sans-serif", "fontSize": 28, "fontWeight": "bold", "color": "#33cc33", "align": "center", "baseline": "alphabetic", "dy": 26},
 "encoding": {"x": {"datum": 49.26, "type": "quantitative", "scale": {"domain": [-0.5, 142]}, "axis": null}, "y": {"datum": 57.08, "type": "quantitative", "scale": {"domain": [23.44, 57.08]}, "axis": null}, "text": {"value": "Daily"}}},
{"data": {"name": "one"}, "mark": {"type": "text", "font": "Liberation Sans Narrow, DejaVu Sans Condensed, sans-serif", "fontSize": 28, "fontWeight": "bold", "color": "#ffff00", "align": "center", "baseline": "alphabetic", "dy": 26},
 "encoding": {"x": {"datum": 77.75, "type": "quantitative", "scale": {"domain": [-0.5, 142]}, "axis": null}, "y": {"datum": 57.08, "type": "quantitative", "scale": {"domain": [23.44, 57.08]}, "axis": null}, "text": {"value": "Dautucophieu.net"}}},
{"data": {"name": "one"}, "mark": {"type": "text", "font": "Liberation Sans Narrow, DejaVu Sans Condensed, sans-serif", "fontSize": 28, "fontWeight": "bold", "color": "#ffa366", "align": "center", "baseline": "alphabetic", "dy": 26},
 "encoding": {"x": {"datum": 113.15, "type": "quantitative", "scale": {"domain": [-0.5, 142]}, "axis": null}, "y": {"datum": 57.08, "type": "quantitative", "scale": {"domain": [23.44, 57.08]}, "axis": null}, "text": {"value": "Hotline: 0912.842.224"}}}
]
},
{"data": {"name": "candles"}, "mark": {"type": "bar", "width": 2, "color": "#4b4b80"},
 "encoding": {
  "x": {"field": "t", "type": "quantitative", "scale": {"domain": [-0.5, 142]}, "axis": null},
  "y": {"field": "v", "type": "quantitative", "scale": {"domain": [0, 65.6]}, "axis": null}
 }},
{
"layer": [
{"data": {"name": "lines"}, "mark": {"type": "line", "strokeWidth": 1.3},
 "encoding": {
  "x": {"field": "t", "type": "quantitative", "scale": {"domain": [-0.5, 142]}, "axis": null},
  "y": {"field": "v", "type": "quantitative", "scale": {"domain": [23.44, 57.08]}, "axis": null},
  "color": {"field": "s", "type": "nominal", "scale": {"domain": ["MA20","BBU","BBL","MA50","MA100","MA200"], "range": ["#ff1a1a","#7c7c7c","#7c7c7c","#ffa64d","#ffa64d","#d4d4d4"]}, "legend": null},
  "detail": {"field": "s"}
 }},
{"data": {"name": "candles"}, "mark": {"type": "rule", "strokeWidth": 1},
 "encoding": {
  "x": {"field": "t", "type": "quantitative", "scale": {"domain": [-0.5, 142]}, "axis": null},
  "y": {"field": "l", "type": "quantitative", "scale": {"domain": [23.44, 57.08]}, "axis": null},
  "y2": {"field": "h"},
  "color": {"condition": {"test": "datum.c >= datum.o", "value": "#00ff00"}, "value": "#ff0000"}
 }},
{"data": {"name": "candles"}, "mark": {"type": "bar", "width": 9, "strokeWidth": 1.4},
 "encoding": {
  "x": {"field": "t", "type": "quantitative", "scale": {"domain": [-0.5, 142]}, "axis": null},
  "y": {"field": "o", "type": "quantitative", "scale": {"domain": [23.44, 57.08]}, "axis": null},
  "y2": {"field": "c"},
  "fill": {"condition": {"test": "datum.c >= datum.o", "value": "#000000"}, "value": "#ff0000"},
  "stroke": {"condition": {"test": "datum.c >= datum.o", "value": "#00ff00"}, "value": "#ff0000"}
 }},
{"data": {"name": "one"}, "mark": {"type": "rule", "color": "#8a8a8a", "strokeWidth": 1},
 "encoding": {"x": {"datum": 142, "type": "quantitative", "scale": {"domain": [-0.5, 142]}, "axis": null}}},
{"data": {"name": "one"}, "mark": {"type": "rule", "color": "#8a8a8a", "strokeWidth": 1},
 "encoding": {"y": {"datum": 23.44, "type": "quantitative", "scale": {"domain": [23.44, 57.08]}, "axis": null}}},
{"data": {"name": "pgrid"}, "mark": {"type": "rule", "color": "#aaaaaa", "strokeWidth": 1, "x2Offset": 4},
 "encoding": {
  "x": {"datum": 142, "type": "quantitative", "scale": {"domain": [-0.5, 142]}, "axis": null},
  "x2": {"datum": 142},
  "y": {"field": "p", "type": "quantitative", "scale": {"domain": [23.44, 57.08]}, "axis": null}
 }},
{"data": {"name": "pgrid"}, "transform": [{"filter": "datum.p != 50 && datum.p != 48"}], "mark": {"type": "text", "font": "Liberation Sans, Arial, sans-serif", "fontSize": 12, "align": "right", "baseline": "middle", "fill": "#ffffff"},
 "encoding": {
  "x": {"datum": 146.4, "type": "quantitative", "scale": {"domain": [-0.5, 142]}, "axis": null},
  "y": {"field": "p", "type": "quantitative", "scale": {"domain": [23.44, 57.08]}, "axis": null},
  "text": {"field": "p", "type": "nominal"}
 }},
{"data": {"name": "xlab"}, "mark": {"type": "rule", "color": "#aaaaaa", "strokeWidth": 1, "y2Offset": 6},
 "encoding": {
  "x": {"field": "t", "type": "quantitative", "scale": {"domain": [-0.5, 142]}, "axis": null},
  "y": {"datum": 23.44, "type": "quantitative", "scale": {"domain": [23.44, 57.08]}, "axis": null},
  "y2": {"datum": 23.44}
 }},
{"data": {"name": "xlab"}, "transform": [{"filter": "datum.b == 1"}], "mark": {"type": "text", "font": "Liberation Sans Narrow, DejaVu Sans Condensed, sans-serif", "fontSize": 12, "fontWeight": "bold", "align": "left", "baseline": "alphabetic", "dx": 3, "dy": 13, "fill": "#ffffff"},
 "encoding": {
  "x": {"field": "t", "type": "quantitative", "scale": {"domain": [-0.5, 142]}, "axis": null},
  "y": {"datum": 23.44, "type": "quantitative", "scale": {"domain": [23.44, 57.08]}, "axis": null},
  "text": {"field": "lab"}
 }},
{"data": {"name": "xlab"}, "transform": [{"filter": "datum.b == 0"}], "mark": {"type": "text", "font": "Liberation Sans Narrow, DejaVu Sans Condensed, sans-serif", "fontSize": 12, "align": "left", "baseline": "alphabetic", "dx": 3, "dy": 13, "fill": "#ffffff"},
 "encoding": {
  "x": {"field": "t", "type": "quantitative", "scale": {"domain": [-0.5, 142]}, "axis": null},
  "y": {"datum": 23.44, "type": "quantitative", "scale": {"domain": [23.44, 57.08]}, "axis": null},
  "text": {"field": "lab"}
 }},
{"data": {"name": "lastA"}, "mark": {"type": "rect", "yOffset": -7, "y2Offset": 7},
 "encoding": {
  "x": {"datum": 142.6, "type": "quantitative", "scale": {"domain": [-0.5, 142]}, "axis": null},
  "x2": {"datum": 146.5},
  "y": {"field": "v", "type": "quantitative", "scale": {"domain": [23.44, 57.08]}, "axis": null},
  "y2": {"field": "v"},
  "fill": {"condition": {"test": "datum.n == 'MA20'", "value": "#ff0000"}, "value": "#c8c8c8"}
 }},
{"data": {"name": "lastA"}, "mark": {"type": "text", "font": "Liberation Sans, Arial, sans-serif", "fontSize": 12, "align": "left", "baseline": "middle"},
 "encoding": {
  "x": {"datum": 142.83, "type": "quantitative", "scale": {"domain": [-0.5, 142]}, "axis": null},
  "y": {"field": "v", "type": "quantitative", "scale": {"domain": [23.44, 57.08]}, "axis": null},
  "text": {"field": "txt"},
  "fill": {"condition": {"test": "datum.n == 'MA20'", "value": "#5a0000"}, "value": "#1e1e1e"}
 }},
{"data": {"name": "lastB"}, "mark": {"type": "rect", "yOffset": -1, "y2Offset": 13, "fill": "#c8c8c8"},
 "encoding": {
  "x": {"datum": 142.6, "type": "quantitative", "scale": {"domain": [-0.5, 142]}, "axis": null},
  "x2": {"datum": 146.5},
  "y": {"field": "v", "type": "quantitative", "scale": {"domain": [23.44, 57.08]}, "axis": null},
  "y2": {"field": "v"}
 }},
{"data": {"name": "lastB"}, "mark": {"type": "text", "font": "Liberation Sans, Arial, sans-serif", "fontSize": 12, "align": "left", "baseline": "middle", "dy": 6, "fill": "#1e1e1e"},
 "encoding": {
  "x": {"datum": 142.83, "type": "quantitative", "scale": {"domain": [-0.5, 142]}, "axis": null},
  "y": {"field": "v", "type": "quantitative", "scale": {"domain": [23.44, 57.08]}, "axis": null},
  "text": {"field": "txt"}
 }},
{"data": {"name": "lastC"}, "mark": {"type": "rect", "yOffset": -15, "y2Offset": 0, "fill": "#ffa366"},
 "encoding": {
  "x": {"datum": 142.6, "type": "quantitative", "scale": {"domain": [-0.5, 142]}, "axis": null},
  "x2": {"datum": 145.4},
  "y": {"field": "v", "type": "quantitative", "scale": {"domain": [23.44, 57.08]}, "axis": null},
  "y2": {"field": "v"}
 }},
{"data": {"name": "lastC"}, "mark": {"type": "text", "font": "Liberation Sans, Arial, sans-serif", "fontSize": 12, "align": "left", "baseline": "middle", "dy": -7, "fill": "#2a1a00"},
 "encoding": {
  "x": {"datum": 142.83, "type": "quantitative", "scale": {"domain": [-0.5, 142]}, "axis": null},
  "y": {"field": "v", "type": "quantitative", "scale": {"domain": [23.44, 57.08]}, "axis": null},
  "text": {"field": "txt"}
 }},
{"data": {"name": "lastD"}, "mark": {"type": "rect", "yOffset": -6, "y2Offset": 24, "fill": "#ffff00"},
 "encoding": {
  "x": {"datum": 142.12, "type": "quantitative", "scale": {"domain": [-0.5, 142]}, "axis": null},
  "x2": {"datum": 145.06},
  "y": {"field": "v", "type": "quantitative", "scale": {"domain": [23.44, 57.08]}, "axis": null},
  "y2": {"field": "v"}
 }},
{"data": {"name": "lastD"}, "mark": {"type": "point", "shape": "triangle-left", "filled": true, "size": 70, "color": "#ffff00", "opacity": 1, "yOffset": 1},
 "encoding": {
  "x": {"datum": 141.95, "type": "quantitative", "scale": {"domain": [-0.5, 142]}, "axis": null},
  "y": {"field": "v", "type": "quantitative", "scale": {"domain": [23.44, 57.08]}, "axis": null}
 }},
{"data": {"name": "lastD"}, "mark": {"type": "text", "font": "Liberation Sans, Arial, sans-serif", "fontSize": 12, "align": "center", "baseline": "middle", "dy": 2, "fill": "#000000"},
 "encoding": {
  "x": {"datum": 143.6, "type": "quantitative", "scale": {"domain": [-0.5, 142]}, "axis": null},
  "y": {"field": "v", "type": "quantitative", "scale": {"domain": [23.44, 57.08]}, "axis": null},
  "text": {"field": "txt"}
 }},
{"data": {"name": "lastD"}, "mark": {"type": "text", "font": "Liberation Sans, Arial, sans-serif", "fontSize": 12, "align": "center", "baseline": "middle", "dy": 16, "fill": "#000000"},
 "encoding": {
  "x": {"datum": 143.6, "type": "quantitative", "scale": {"domain": [-0.5, 142]}, "axis": null},
  "y": {"field": "v", "type": "quantitative", "scale": {"domain": [23.44, 57.08]}, "axis": null},
  "text": {"field": "txt"}
 }}
]
}
]
},
{
"width": 1795,
"height": 224,
"layer": [
{"data": {"name": "weeks"}, "mark": {"type": "rect"},
 "encoding": {
  "x": {"field": "t", "type": "quantitative", "scale": {"domain": [-0.5, 142]}, "axis": null},
  "x2": {"field": "t2"},
  "fill": {"condition": {"test": "datum.k == 1", "value": "#1c1c1c"}, "value": "#121212"}
 }},
{"data": {"name": "ticks"}, "mark": {"type": "rule", "strokeWidth": 1},
 "encoding": {
  "x": {"field": "t", "type": "quantitative", "scale": {"domain": [-0.5, 142]}, "axis": null},
  "color": {"condition": {"test": "datum.m == 1", "value": "#5e5e5e"}, "value": "#474747"},
  "strokeDash": {"condition": {"test": "datum.m == 1", "value": [1, 0]}, "value": [2, 2]}
 }},
{"data": {"name": "mgrid"}, "mark": {"type": "rule", "color": "#4a4a4a", "strokeDash": [2, 3], "strokeWidth": 1},
 "encoding": {
  "y": {"field": "p", "type": "quantitative", "scale": {"domain": [-1.167, 3.034]}, "axis": null}
 }},
{"data": {"name": "one"}, "mark": {"type": "rule", "color": "#8a8a8a", "strokeWidth": 1},
 "encoding": {"y": {"datum": 3.034, "type": "quantitative", "scale": {"domain": [-1.167, 3.034]}, "axis": null}}},
{"data": {"name": "hist"}, "mark": {"type": "rule", "color": "#dddddd", "strokeWidth": 1},
 "encoding": {
  "x": {"field": "t", "type": "quantitative", "scale": {"domain": [-0.5, 142]}, "axis": null},
  "y": {"field": "v", "type": "quantitative", "scale": {"domain": [-1.167, 3.034]}, "axis": null},
  "y2": {"datum": 0}
 }},
{"data": {"name": "macd"}, "mark": {"type": "line", "strokeWidth": 1.5},
 "encoding": {
  "x": {"field": "t", "type": "quantitative", "scale": {"domain": [-0.5, 142]}, "axis": null},
  "y": {"field": "v", "type": "quantitative", "scale": {"domain": [-1.167, 3.034]}, "axis": null},
  "color": {"field": "s", "type": "nominal", "scale": {"domain": ["MACD", "Signal"], "range": ["#ff0000", "#0000ff"]}, "legend": null},
  "detail": {"field": "s"}
 }},
{"data": {"name": "one"}, "mark": {"type": "rule", "color": "#8a8a8a", "strokeWidth": 1},
 "encoding": {"x": {"datum": 142, "type": "quantitative", "scale": {"domain": [-0.5, 142]}, "axis": null}}},
{"data": {"name": "mgrid"}, "mark": {"type": "rule", "color": "#aaaaaa", "strokeWidth": 1, "x2Offset": 4},
 "encoding": {
  "x": {"datum": 142, "type": "quantitative", "scale": {"domain": [-0.5, 142]}, "axis": null},
  "x2": {"datum": 142},
  "y": {"field": "p", "type": "quantitative", "scale": {"domain": [-1.167, 3.034]}, "axis": null}
 }},
{"data": {"name": "mgrid"}, "transform": [{"filter": "datum.p < 2.4"}], "mark": {"type": "text", "font": "Liberation Sans, Arial, sans-serif", "fontSize": 12, "align": "right", "baseline": "middle", "fill": "#ffffff"},
 "encoding": {
  "x": {"datum": 146.4, "type": "quantitative", "scale": {"domain": [-0.5, 142]}, "axis": null},
  "y": {"field": "p", "type": "quantitative", "scale": {"domain": [-1.167, 3.034]}, "axis": null},
  "text": {"field": "lab"}
 }},
{"data": {"name": "one"}, "mark": {"type": "rect", "fill": "#000000", "yOffset": 5, "y2Offset": 18},
 "encoding": {
  "x": {"datum": -0.26, "type": "quantitative", "scale": {"domain": [-0.5, 142]}, "axis": null},
  "x2": {"datum": 21.5},
  "y": {"datum": 3.034, "type": "quantitative", "scale": {"domain": [-1.167, 3.034]}, "axis": null},
  "y2": {"datum": 3.034}
 }},
{"data": {"name": "one"}, "mark": {"type": "text", "font": "Liberation Sans, Arial, sans-serif", "fontSize": 12, "align": "left", "baseline": "alphabetic", "dy": 15, "fill": "#ffffff"},
 "encoding": {"x": {"datum": -0.18, "type": "quantitative", "scale": {"domain": [-0.5, 142]}, "axis": null}, "y": {"datum": 3.034, "type": "quantitative", "scale": {"domain": [-1.167, 3.034]}, "axis": null}, "text": {"value": "CTG -"}}},
{"data": {"name": "one"}, "mark": {"type": "text", "font": "Liberation Sans, Arial, sans-serif", "fontSize": 12, "align": "left", "baseline": "alphabetic", "dy": 15, "fill": "#ee0000"},
 "encoding": {"x": {"datum": 2.6, "type": "quantitative", "scale": {"domain": [-0.5, 142]}, "axis": null}, "y": {"datum": 3.034, "type": "quantitative", "scale": {"domain": [-1.167, 3.034]}, "axis": null}, "text": {"value": "MACD(12,26)"}}},
{"data": {"name": "one"}, "mark": {"type": "text", "font": "Liberation Sans, Arial, sans-serif", "fontSize": 12, "align": "left", "baseline": "alphabetic", "dy": 15, "fill": "#ffffff"},
 "encoding": {"x": {"datum": 8.63, "type": "quantitative", "scale": {"domain": [-0.5, 142]}, "axis": null}, "y": {"datum": 3.034, "type": "quantitative", "scale": {"domain": [-1.167, 3.034]}, "axis": null}, "text": {"value": "= 2.47,"}}},
{"data": {"name": "one"}, "mark": {"type": "text", "font": "Liberation Sans, Arial, sans-serif", "fontSize": 12, "align": "left", "baseline": "alphabetic", "dy": 15, "fill": "#2020ff"},
 "encoding": {"x": {"datum": 11.8, "type": "quantitative", "scale": {"domain": [-0.5, 142]}, "axis": null}, "y": {"datum": 3.034, "type": "quantitative", "scale": {"domain": [-1.167, 3.034]}, "axis": null}, "text": {"value": "Signal(12,26,9)"}}},
{"data": {"name": "one"}, "mark": {"type": "text", "font": "Liberation Sans, Arial, sans-serif", "fontSize": 12, "align": "left", "baseline": "alphabetic", "dy": 15, "fill": "#ffffff"},
 "encoding": {"x": {"datum": 18.79, "type": "quantitative", "scale": {"domain": [-0.5, 142]}, "axis": null}, "y": {"datum": 3.034, "type": "quantitative", "scale": {"domain": [-1.167, 3.034]}, "axis": null}, "text": {"value": "= 2.49"}}},
{"data": {"name": "lastS"}, "mark": {"type": "rect", "fill": "#0000ff", "yOffset": -22, "y2Offset": -9},
 "encoding": {
  "x": {"datum": 142.6, "type": "quantitative", "scale": {"domain": [-0.5, 142]}, "axis": null},
  "x2": {"datum": 146.5},
  "y": {"field": "v", "type": "quantitative", "scale": {"domain": [-1.167, 3.034]}, "axis": null},
  "y2": {"field": "v"}
 }},
{"data": {"name": "lastS"}, "mark": {"type": "text", "font": "Liberation Sans, Arial, sans-serif", "fontSize": 12, "align": "left", "baseline": "middle", "dy": -15, "fill": "#ffffff"},
 "encoding": {
  "x": {"datum": 142.83, "type": "quantitative", "scale": {"domain": [-0.5, 142]}, "axis": null},
  "y": {"field": "v", "type": "quantitative", "scale": {"domain": [-1.167, 3.034]}, "axis": null},
  "text": {"field": "txt"}
 }},
{"data": {"name": "lastM"}, "mark": {"type": "rect", "fill": "#ff0000", "yOffset": -9, "y2Offset": 3},
 "encoding": {
  "x": {"datum": 142.55, "type": "quantitative", "scale": {"domain": [-0.5, 142]}, "axis": null},
  "x2": {"datum": 146.5},
  "y": {"field": "v", "type": "quantitative", "scale": {"domain": [-1.167, 3.034]}, "axis": null},
  "y2": {"field": "v"}
 }},
{"data": {"name": "lastM"}, "mark": {"type": "point", "shape": "triangle-left", "filled": true, "size": 60, "color": "#ff0000", "opacity": 1, "yOffset": -3},
 "encoding": {
  "x": {"datum": 142.2, "type": "quantitative", "scale": {"domain": [-0.5, 142]}, "axis": null},
  "y": {"field": "v", "type": "quantitative", "scale": {"domain": [-1.167, 3.034]}, "axis": null}
 }},
{"data": {"name": "lastM"}, "mark": {"type": "text", "font": "Liberation Sans, Arial, sans-serif", "fontSize": 12, "align": "left", "baseline": "middle", "dy": -3, "fill": "#5a0000"},
 "encoding": {
  "x": {"datum": 142.83, "type": "quantitative", "scale": {"domain": [-0.5, 142]}, "axis": null},
  "y": {"field": "v", "type": "quantitative", "scale": {"domain": [-1.167, 3.034]}, "axis": null},
  "text": {"field": "txt"}
 }}
]
}
]
}
